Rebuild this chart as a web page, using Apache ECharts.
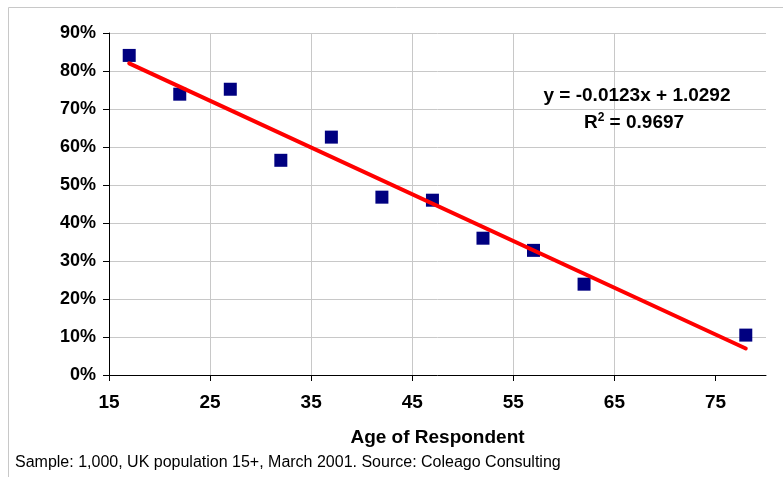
<!DOCTYPE html>
<html><head><meta charset="utf-8">
<script src="https://cdn.jsdelivr.net/npm/echarts@6/dist/echarts.min.js"></script>
<style>html,body{margin:0;padding:0;background:#fff}#c{width:783px;height:477px}</style>
</head><body><div id="c"></div>
<script>
// Data
const ages = [17, 22, 27, 32, 37, 42, 47, 52, 57, 62, 78];
const shares = [0.841, 0.739, 0.752, 0.565, 0.626, 0.468, 0.460, 0.360, 0.328, 0.239, 0.105];
// Linear trendline end points (y = -0.0123x + 1.0292)
const trendAges = [17, 78];
const trendShares = [0.8201, 0.0698];
// Tick labels
const xTicks = [15, 25, 35, 45, 55, 65, 75];
const yTicks = [0, 0.1, 0.2, 0.3, 0.4, 0.5, 0.6, 0.7, 0.8, 0.9];
const xAxisTitle = 'Age of Respondent';
const equationText = 'y = -0.0123x + 1.0292';
const r2Label = 'R';
const r2Sup = '2';
const r2Value = ' = 0.9697';
const footnote = 'Sample: 1,000, UK population 15+, March 2001. Source: Coleago Consulting';

const FONT = '"Liberation Sans", Arial, sans-serif';
const chart = echarts.init(document.getElementById('c'), null, {renderer: 'canvas'});
chart.setOption({
  backgroundColor: '#ffffff',
  animation: false,
  grid: {left: 109, right: 17, top: 33, bottom: 102, containLabel: false},
  xAxis: {
    type: 'value', min: 15, max: 80, interval: 10,
    name: xAxisTitle, nameLocation: 'middle', nameGap: 53,
    nameTextStyle: {fontFamily: FONT, fontWeight: 'bold', fontSize: 19, color: '#000'},
    axisLine: {show: true, onZero: false, lineStyle: {color: '#000', width: 1}},
    axisTick: {show: true, length: 6, lineStyle: {color: '#000'}, customValues: xTicks},
    axisLabel: {fontFamily: FONT, fontWeight: 'bold', fontSize: 19, color: '#000', margin: 18, customValues: xTicks},
    splitLine: {show: true, showMaxLine: false, lineStyle: {color: '#c8c8c8', width: 1}}
  },
  yAxis: {
    type: 'value', min: 0, max: 0.9, interval: 0.1,
    axisLine: {show: true, onZero: false, lineStyle: {color: '#000', width: 1}},
    axisTick: {show: true, length: 6, lineStyle: {color: '#000'}, customValues: yTicks},
    axisLabel: {fontFamily: FONT, fontWeight: 'bold', fontSize: 18, color: '#000', margin: 13,
      customValues: yTicks, formatter: v => Math.round(v * 100) + '%'},
    splitLine: {show: true, lineStyle: {color: '#c8c8c8', width: 1}}
  },
  series: [
    {
      type: 'scatter', name: 'Share',
      data: ages.map((a, i) => [a, shares[i]]),
      symbol: 'rect', symbolSize: 13,
      itemStyle: {color: '#000080', opacity: 1}, z: 2
    },
    {
      type: 'line', name: 'Trend',
      data: trendAges.map((a, i) => [a, trendShares[i]]),
      showSymbol: false, symbol: 'none',
      lineStyle: {color: '#ff0000', width: 4, cap: 'round'}, z: 3
    }
  ],
  graphic: [
    {type: 'rect', silent: true, z: -10, shape: {x: 8.5, y: 7.5, width: 820, height: 520},
      style: {fill: 'none', stroke: '#c8c8c8', lineWidth: 1}},
    {type: 'text', silent: true, x: 637, y: 96, z: 10,
      style: {text: equationText, align: 'center', verticalAlign: 'middle',
        font: 'bold 19px ' + FONT, fill: '#000'}},
    {type: 'text', silent: true, x: 634, y: 123, z: 10,
      style: {text: '{b|' + r2Label + '}{s|' + r2Sup + '}{b|' + r2Value + '}',
        align: 'center', verticalAlign: 'middle',
        rich: {
          b: {fontFamily: FONT, fontWeight: 'bold', fontSize: 19, fill: '#000', lineHeight: 22},
          s: {fontFamily: FONT, fontWeight: 'bold', fontSize: 12, fill: '#000', verticalAlign: 'top', lineHeight: 12}
        }}},
    {type: 'text', silent: true, x: 15, y: 463, z: 10,
      style: {text: footnote, align: 'left', verticalAlign: 'middle',
        font: '16px ' + FONT, fill: '#000'}}
  ]
});
</script></body></html>
